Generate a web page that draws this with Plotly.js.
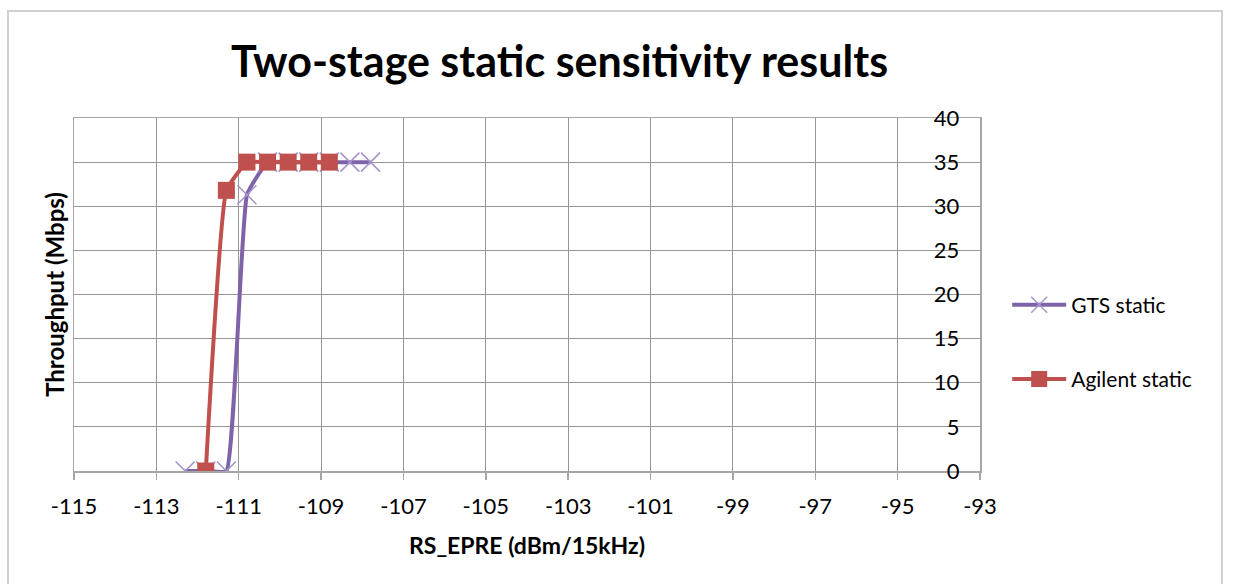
<!DOCTYPE html>
<html>
<head>
<meta charset="utf-8">
<script src="https://cdn.plot.ly/plotly-3.0.1.min.js"></script>
<style>
  html, body { margin: 0; padding: 0; background: #ffffff; }
  #frame { position: absolute; left: 7px; top: 10px; width: 1216px; height: 600px; border: 2px solid #d0d0d0; box-sizing: border-box; pointer-events: none; z-index: 5; }
  #chart { width: 1234px; height: 584px; }
</style>
</head>
<body>
<div id="frame"></div>
<div id="chart"></div>
<script>
// Data
const seriesNames = ["GTS static", "Agilent static"];
const gtsX = [-112.3, -111.8, -111.3, -110.8, -110.3, -109.8, -109.3, -108.8, -108.3, -107.8];
const gtsY = [0, 0, 0, 31.3, 35, 35, 35, 35, 35, 35];
const agilentX = [-111.8, -111.3, -110.8, -110.3, -109.8, -109.3, -108.8];
const agilentY = [0, 31.8, 35, 35, 35, 35, 35];
const xTickValues = [-115, -113, -111, -109, -107, -105, -103, -101, -99, -97, -95, -93];
const yTickValues = [0, 5, 10, 15, 20, 25, 30, 35, 40];
const titleText = "Two-stage static sensitivity results";
const xTitleText = "RS_EPRE (dBm/15kHz)";
const yTitleText = "Throughput (Mbps)";

const FONT = "Lato, 'Open Sans', sans-serif";

const traces = [
  {
    x: gtsX, y: gtsY, name: seriesNames[0], type: "scatter", mode: "lines+markers",
    legendgroup: "g1",
    line: { color: "#7F63A8", width: 4, shape: "spline", smoothing: 0.35 },
    marker: { symbol: "x-thin-open", size: 19, color: "#A593CB", line: { color: "#A593CB", width: 1.5 } }
  },
  {
    x: agilentX, y: agilentY, name: seriesNames[1], type: "scatter", mode: "lines+markers",
    legendgroup: "g2",
    line: { color: "#C0504D", width: 4, shape: "spline", smoothing: 0.35 },
    marker: { symbol: "square", size: 17, color: "#C0504D", line: { width: 0 } }
  },
  {
    x: [], y: [], yaxis: "y2", showlegend: false, hoverinfo: "skip", type: "scatter"
  }
];

const layout = {
  width: 1234, height: 584,
  paper_bgcolor: "#ffffff", plot_bgcolor: "#ffffff",
  margin: { l: 74, r: 254, t: 118, b: 113 },
  font: { family: FONT, color: "#000000", size: 21 },
  title: {
    text: "<b>" + titleText + "</b>",
    font: { family: FONT, size: 43, color: "#000000" },
    xref: "container", x: 0.4534, xanchor: "center",
    yref: "container", y: 0.894, yanchor: "middle"
  },
  xaxis: {
    range: [-115.0001, -92.9999], tickvals: xTickValues, ticktext: xTickValues.map(String),
    showgrid: true, gridcolor: "#969696", gridwidth: 1,
    showline: true, linecolor: "#a6a6a6", linewidth: 1.5, mirror: true,
    ticks: "outside", ticklen: 7, tickcolor: "#a6a6a6", tickwidth: 1.5,
    ticklabelstandoff: 8,
    zeroline: false,
    tickfont: { family: FONT, size: 22, color: "#000000" },
    title: { text: "<b>" + xTitleText + "</b>", font: { family: FONT, size: 23, color: "#000000" }, standoff: 20 }
  },
  yaxis: {
    range: [0, 40], tickvals: yTickValues, ticktext: yTickValues.map(String),
    side: "right", ticklabelposition: "inside", ticklabelstandoff: 22, ticklabeloverflow: "allow",
    showgrid: true, gridcolor: "#969696", gridwidth: 1,
    showline: true, linecolor: "#a6a6a6", linewidth: 1.5, mirror: true,
    ticks: "", zeroline: false,
    tickfont: { family: FONT, size: 22, color: "#000000" }
  },
  yaxis2: {
    overlaying: "y", side: "left", range: [0, 40],
    showgrid: false, showticklabels: false, showline: false, zeroline: false, ticks: "",
    title: { text: "<b>" + yTitleText + "</b>", font: { family: FONT, size: 24, color: "#000000" }, standoff: 1 }
  },
  legend: {
    x: 1.03, xanchor: "left", y: 0.365, yanchor: "middle",
    font: { family: FONT, size: 21, color: "#000000" },
    itemwidth: 54,
    traceorder: "grouped", tracegroupgap: 44,
    bgcolor: "rgba(0,0,0,0)", borderwidth: 0
  },
  showlegend: true
};

Plotly.newPlot("chart", traces, layout, { displayModeBar: false, staticPlot: true });
</script>
</body>
</html>
